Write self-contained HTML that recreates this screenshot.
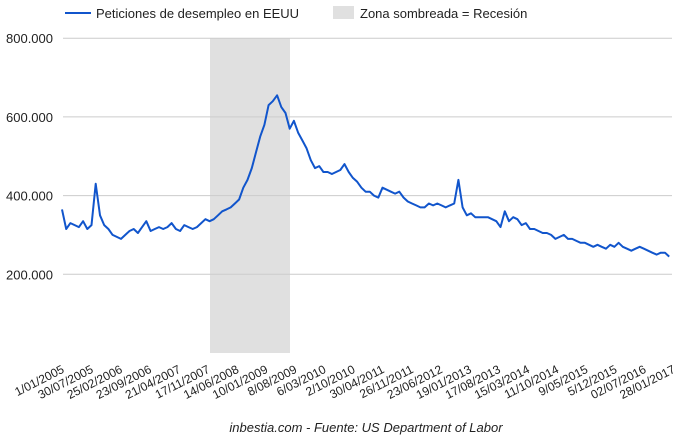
<!DOCTYPE html>
<html><head><meta charset="utf-8">
<style>
body{margin:0;background:#fff;}
svg{display:block;font-family:"Liberation Sans",sans-serif;}
</style></head><body>
<svg id="chart" width="680" height="441">
<rect x="210" y="38" width="80" height="315" fill="#e0e0e0"/>
<g id="grid"></g>
<path id="line" fill="none" stroke="#1155cc" stroke-width="2" stroke-linejoin="round"/>
<g id="xlabels"></g>
<g>
<line x1="65" y1="13" x2="91" y2="13" stroke="#1155cc" stroke-width="2"/>
<text x="96" y="18" font-size="13" fill="#222">Peticiones de desempleo en EEUU</text>
<rect x="333" y="6" width="21" height="13" fill="#e0e0e0"/>
<text x="360" y="18" font-size="13" fill="#222">Zona sombreada = Recesión</text>
</g>
<text x="366" y="432" font-size="13" font-style="italic" fill="#222" text-anchor="middle">inbestia.com - Fuente: US Department of Labor</text>
</svg>
<script>
const yTicks=[200,400,600,800];
const yTickLabels=["200.000","400.000","600.000","800.000"];
const xLabels=["1/01/2005","30/07/2005","25/02/2006","23/09/2006","21/04/2007","17/11/2007","14/06/2008","10/01/2009","8/08/2009","6/03/2010","2/10/2010","30/04/2011","26/11/2011","23/06/2012","19/01/2013","17/08/2013","15/03/2014","11/10/2014","9/05/2015","5/12/2015","02/07/2016","28/01/2017"];
const startYear=2005;
const claims=[365,315,330,325,320,335,315,325,430,350,325,315,
300,295,290,300,310,315,305,320,335,310,315,320,
315,320,330,315,310,325,320,315,320,330,340,335,
340,350,360,365,370,380,390,420,440,470,510,550,
580,630,640,655,625,610,570,590,560,540,520,490,
470,475,460,460,455,460,465,480,460,445,435,420,
410,410,400,395,420,415,410,405,410,395,385,380,
375,370,370,380,375,380,375,370,375,380,440,370,
350,355,345,345,345,345,340,335,320,360,335,345,
340,325,330,315,315,310,305,305,300,290,295,300,
290,290,285,280,280,275,270,275,270,265,275,270,
280,270,265,260,265,270,265,260,255,250,255,255,
245];
const X0=62,PXY=50.6,Y0=353,PK=78.7/200;
const xs=t=>X0+PXY*(t-startYear);
const ys=v=>Y0-v*PK;
const NS="http://www.w3.org/2000/svg";
const grid=document.getElementById('grid');
yTicks.forEach((v,i)=>{
 const l=document.createElementNS(NS,'line');
 l.setAttribute('x1',63);l.setAttribute('x2',672);
 l.setAttribute('y1',ys(v));l.setAttribute('y2',ys(v));
 l.setAttribute('stroke','#cccccc');
 
 
 grid.appendChild(l);
 const t=document.createElementNS(NS,'text');
 t.setAttribute('x',53);t.setAttribute('y',ys(v)+5);
 t.setAttribute('text-anchor','end');t.setAttribute('font-size','13');t.setAttribute('fill','#222');
 t.textContent=yTickLabels[i];
 
 
 grid.appendChild(t);
});
let d='';
claims.forEach((v,i)=>{d+=(i?'L':'M')+xs(startYear+i/12).toFixed(1)+','+ys(v).toFixed(1);});
document.getElementById('line').setAttribute('d',d);
const xg=document.getElementById('xlabels');
xLabels.forEach(s=>{
 const p=s.split('/');const dt=new Date(+p[2],+p[1]-1,+p[0]);
 const t0=+p[2]+(dt-new Date(+p[2],0,1))/(365.25*864e5);
 const x=xs(t0)+3,y=372;
 const t=document.createElementNS(NS,'text');
 t.setAttribute('x',x);t.setAttribute('y',y);
 t.setAttribute('text-anchor','end');t.setAttribute('font-size','12');t.setAttribute('fill','#222');
 t.setAttribute('transform','rotate(-27 '+x+' '+y+')');
 t.textContent=s;
 
 
 xg.appendChild(t);
});
</script>
</body></html>
